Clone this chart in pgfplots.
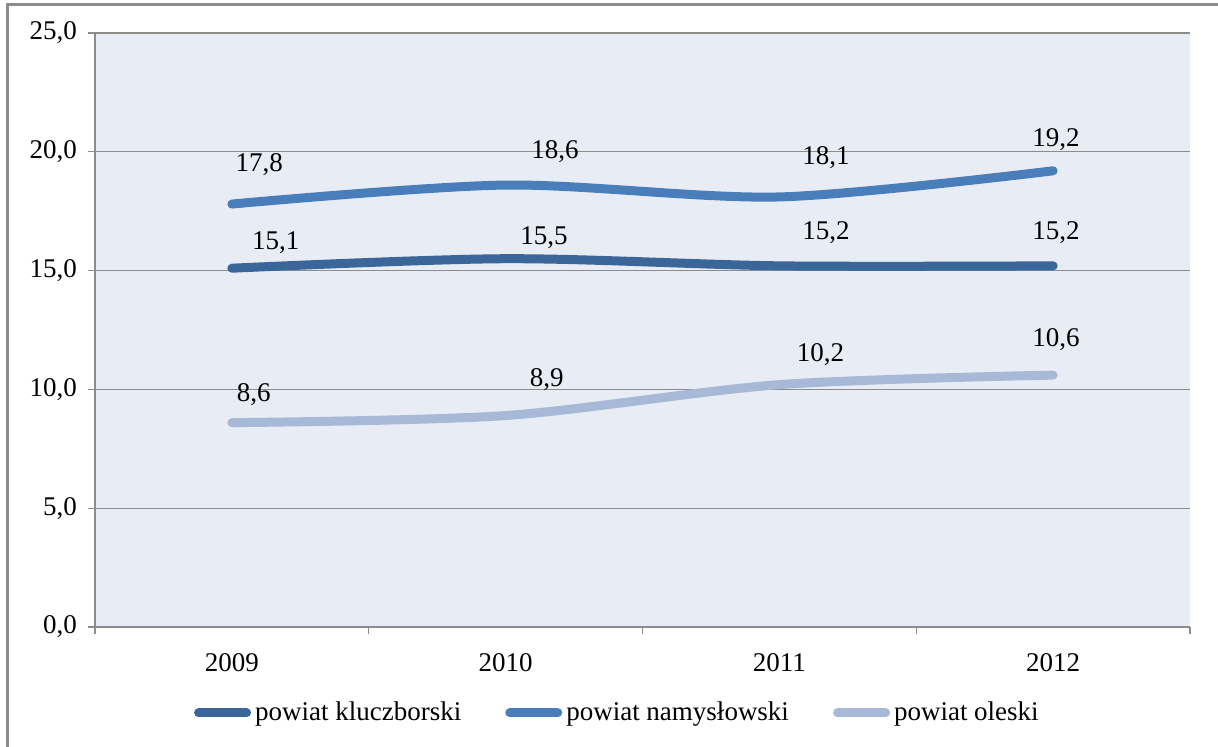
\documentclass[border=0pt]{standalone}
\usepackage{pgfplots}
\pgfplotsset{compat=1.18}
\usepackage{fontspec}
\setmainfont{Liberation Serif}

\definecolor{kluczb}{HTML}{3B6699}
\definecolor{namysl}{HTML}{4A7EBB}
\definecolor{oleski}{HTML}{A7B9D7}
\definecolor{plotbg}{HTML}{E8ECF4}
\definecolor{gridc}{HTML}{8C8C8C}

\begin{document}
\begin{tikzpicture}[font=\fontsize{13.5}{15}\selectfont]
  % rozmiar obrazka i ramka
  \useasboundingbox (-47.5pt,-60pt) rectangle (561.5pt,313.5pt);
  \fill[white] (-47.5pt,-60pt) rectangle (561.5pt,313.5pt);
  \draw[gridc, line width=1.5pt] (-43.5pt,-60pt) -- (-43.5pt,311pt) -- (561.5pt,311pt);

  \begin{axis}[
      at={(0pt,0pt)}, anchor=south west,
      width=547.5pt, height=297pt, scale only axis,
      xmin=-0.5, xmax=3.5,
      ymin=0, ymax=25,
      axis background/.style={fill=plotbg},
      axis lines=left,
      axis line style={gridc, line width=0.6pt, -},
      xtick={0,1,2,3},
      xticklabels={2009,2010,2011,2012},
      minor xtick={-0.5,0.5,1.5,2.5,3.5},
      ytick={0,5,10,15,20,25},
      yticklabel style={/tikz/xshift=-2pt, /pgf/number format/.cd, fixed, fixed zerofill, precision=1, use comma, assume math mode=true},
      tick align=outside,
      major tick length=3.5pt,
      minor tick length=3.5pt,
      x tick style={draw=none},
      minor x tick style={draw=gridc, line width=0.6pt},
      y tick style={gridc, line width=0.6pt},
      xticklabel style={yshift=-6pt},
      ymajorgrids,
      grid style={gridc, line width=0.6pt},
      legend columns=3,
      legend style={at={(0.478,0)}, anchor=center, yshift=-43pt, draw=none, fill=none,
        /tikz/every even column/.append style={column sep=20pt},
        inner sep=0pt},
      legend cell align=left,
      legend image code/.code={\draw[#1, line width=4.5pt, line cap=round] (0pt,0pt) -- (24pt,0pt);},
      every axis plot/.append style={line width=4.5pt, line cap=round, line join=round, smooth},
    ]
    \addplot[kluczb] coordinates {(0,15.1) (1,15.5) (2,15.2) (3,15.2)};
    \addlegendentry{powiat kluczborski}
    \addplot[namysl] coordinates {(0,17.8) (1,18.6) (2,18.1) (3,19.2)};
    \addlegendentry{powiat namysłowski}
    \addplot[oleski] coordinates {(0,8.6) (1,8.9) (2,10.2) (3,10.6)};
    \addlegendentry{powiat oleski}

    % etykiety danych
    \node at (axis cs:0.10,19.44) {17,8};
    \node at (axis cs:0.16,16.16) {15,1};
    \node at (axis cs:0.08,9.76) {8,6};
    \node at (axis cs:1.18,19.99) {18,6};
    \node at (axis cs:1.14,16.37) {15,5};
    \node at (axis cs:1.15,10.40) {8,9};
    \node at (axis cs:2.17,19.74) {18,1};
    \node at (axis cs:2.17,16.58) {15,2};
    \node at (axis cs:2.15,11.45) {10,2};
    \node at (axis cs:3.01,20.50) {19,2};
    \node at (axis cs:3.01,16.58) {15,2};
    \node at (axis cs:3.01,12.08) {10,6};
  \end{axis}
\end{tikzpicture}
\end{document}
